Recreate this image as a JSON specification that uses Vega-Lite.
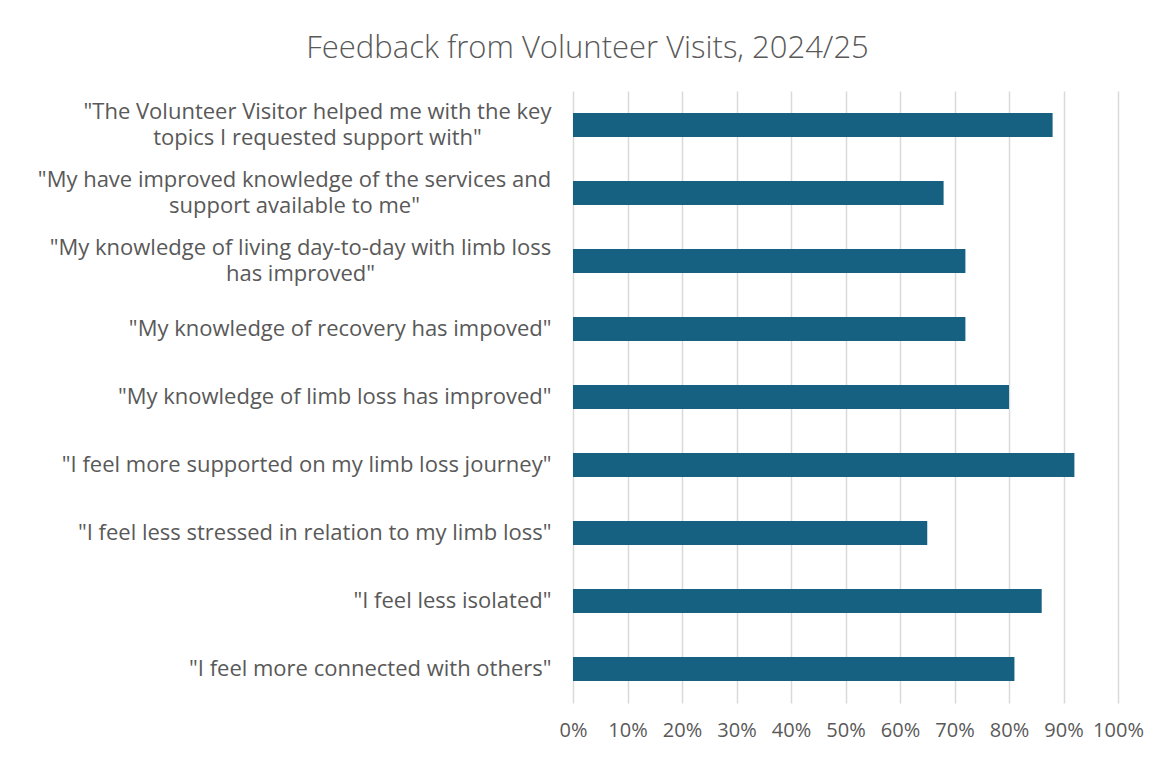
{
  "$schema": "https://vega.github.io/schema/vega-lite/v6.json",
  "width": 545,
  "height": 612,
  "padding": {"left": 8, "top": 33, "right": 40, "bottom": 0},
  "background": "white",
  "title": {
    "text": "Feedback from Volunteer Visits, 2024/25",
    "font": "Open Sans",
    "fontSize": 31,
    "fontWeight": 300,
    "color": "#595959",
    "offset": 26,
    "anchor": "middle",
    "frame": "group",
    "dx": -258
  },
  "data": {
    "values": [
      {"statement": "\"The Volunteer Visitor helped me with the key|topics I requested support with\"", "share": 0.88},
      {"statement": "\"My have improved knowledge of the services and|support available to me\"", "share": 0.68},
      {"statement": "\"My knowledge of living day-to-day with limb loss|has improved\"", "share": 0.72},
      {"statement": "\"My knowledge of recovery has impoved\"", "share": 0.72},
      {"statement": "\"My knowledge of limb loss has improved\"", "share": 0.80},
      {"statement": "\"I feel more supported on my limb loss journey\"", "share": 0.92},
      {"statement": "\"I feel less stressed in relation to my limb loss\"", "share": 0.65},
      {"statement": "\"I feel less isolated\"", "share": 0.86},
      {"statement": "\"I feel more connected with others\"", "share": 0.81}
    ]
  },
  "mark": {"type": "bar", "color": "#166082"},
  "encoding": {
    "y": {
      "field": "statement",
      "type": "nominal",
      "sort": null,
      "title": null,
      "scale": {"paddingInner": 0.647, "paddingOuter": 0.3235},
      "axis": {
        "labelExpr": "split(datum.label, '|')",
        "labelFont": "Open Sans",
        "labelFontSize": 22,
        "labelColor": "#595959",
        "labelLineHeight": 26,
        "labelAlign": {"condition": {"test": "indexof(datum.value, '|') >= 0", "value": "center"}, "value": "right"},
        "labelOffset": {"condition": {"test": "indexof(datum.value, '|') >= 0", "value": -13}, "value": 0},
        "labelPadding": {"condition": [
          {"test": "indexof(datum.value, 'The Volunteer') >= 0", "value": 256},
          {"test": "indexof(datum.value, 'services and') >= 0", "value": 279},
          {"test": "indexof(datum.value, 'day-to-day') >= 0", "value": 273}
        ], "value": 22},
        "labelLimit": 0,
        "minExtent": 565,
        "maxExtent": 565,
        "ticks": false,
        "domain": false,
        "grid": false
      }
    },
    "x": {
      "field": "share",
      "type": "quantitative",
      "title": null,
      "scale": {"domain": [0, 1]},
      "axis": {
        "format": ".0%",
        "values": [0, 0.1, 0.2, 0.3, 0.4, 0.5, 0.6, 0.7, 0.8, 0.9, 1],
        "labelFont": "Open Sans",
        "labelFontSize": 20,
        "labelColor": "#595959",
        "labelPadding": 17,
        "labelOverlap": false,
        "labelFlush": false,
        "ticks": false,
        "domain": false,
        "grid": true,
        "gridColor": "#d9d9d9",
        "gridWidth": 1.5
      }
    }
  },
  "config": {"view": {"stroke": null}}
}
